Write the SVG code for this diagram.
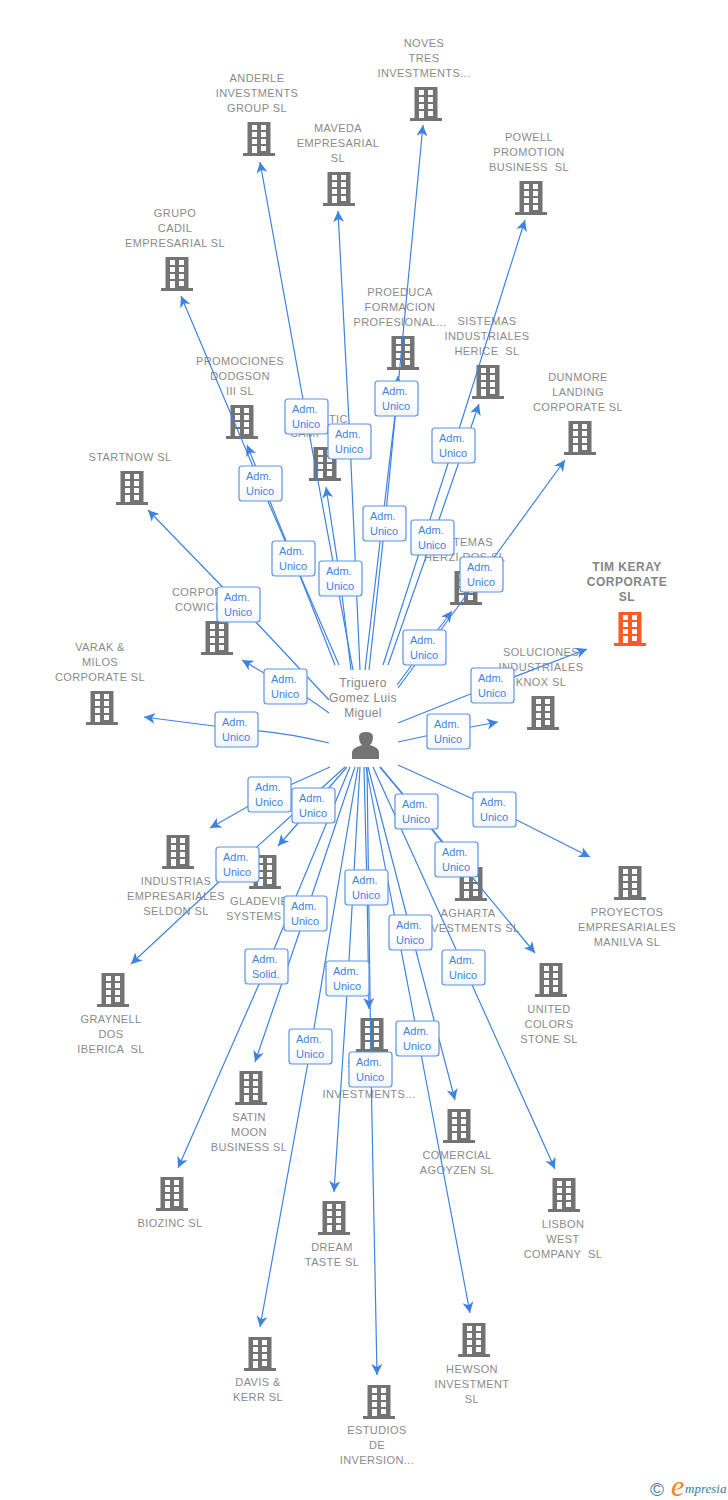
<svg xmlns="http://www.w3.org/2000/svg" width="728" height="1500" viewBox="0 0 728 1500">
<style>
text{font-family:"Liberation Sans",Arial,sans-serif;white-space:pre}
.n{font-size:11px;letter-spacing:.4px;fill:#8a8a8a;text-anchor:middle}
.s{font-size:11px;letter-spacing:.4px;fill:#8a8a8a}
.c{font-size:12px;letter-spacing:.4px;fill:#858585;text-anchor:middle}
.t{font-size:12px;letter-spacing:.5px;font-weight:bold;fill:#858585;text-anchor:middle}
.i{fill:#737373}
.l{fill:none;stroke:#3f83e0;stroke-width:1.2;marker-end:url(#a)}
.b rect{fill:url(#g);stroke:#5a94e8;stroke-width:1.2}
.b text{font-size:11px;fill:#3f83e0}
</style>
<defs>
<linearGradient id="g" x1="0" y1="0" x2="0" y2="1"><stop offset="0" stop-color="#fff"/><stop offset=".6" stop-color="#fff"/><stop offset="1" stop-color="#f1f4f8"/></linearGradient>
<marker id="a" markerUnits="userSpaceOnUse" markerWidth="12" markerHeight="12" refX="11" refY="6" orient="auto"><path d="M11 6L0 .5L3 6L0 11.5Z" fill="#3f83e0"/></marker>
<path id="h" fill-rule="evenodd" d="M-11.5 0H11.5V31H16V34H-16V31H-11.5ZM-7 3h5v5h-5zM2 3h5v5h-5zM-7 10h5v5h-5zM2 10h5v5h-5zM-7 17h5v5h-5zM2 17h5v5h-5zM-7 24h5v7h-5zM2 24h5v5h-5z"/>
</defs>
<g id="node-noves"><use href="#h" class="i" x="426" y="87"/><text class="n" x="424" y="47">NOVES</text><text class="n" x="424" y="62">TRES</text><text class="n" x="424" y="77">INVESTMENTS...</text></g>
<g id="node-anderle"><use href="#h" class="i" x="259" y="122"/><text class="n" x="257" y="82">ANDERLE</text><text class="n" x="257" y="97">INVESTMENTS</text><text class="n" x="257" y="112">GROUP SL</text></g>
<g id="node-maveda"><use href="#h" class="i" x="339" y="172"/><text class="n" x="338" y="132">MAVEDA</text><text class="n" x="338" y="147">EMPRESARIAL</text><text class="n" x="338" y="162">SL</text></g>
<g id="node-powell"><use href="#h" class="i" x="531" y="181"/><text class="n" x="529" y="141">POWELL</text><text class="n" x="529" y="156">PROMOTION</text><text class="n" x="529" y="171">BUSINESS  SL</text></g>
<g id="node-grupo"><use href="#h" class="i" x="177" y="257"/><text class="n" x="175" y="217">GRUPO</text><text class="n" x="175" y="232">CADIL</text><text class="n" x="175" y="247">EMPRESARIAL SL</text></g>
<g id="node-proeduca"><use href="#h" class="i" x="403" y="336"/><text class="n" x="400" y="296">PROEDUCA</text><text class="n" x="400" y="311">FORMACION</text><text class="n" x="400" y="326">PROFESIONAL...</text></g>
<g id="node-herice"><use href="#h" class="i" x="488" y="365"/><text class="n" x="487" y="325">SISTEMAS</text><text class="n" x="487" y="340">INDUSTRIALES</text><text class="n" x="487" y="355">HERICE  SL</text></g>
<g id="node-promociones"><use href="#h" class="i" x="242" y="405"/><text class="n" x="240" y="365">PROMOCIONES</text><text class="n" x="240" y="380">DODGSON</text><text class="n" x="240" y="395">III SL</text></g>
<g id="node-dunmore"><use href="#h" class="i" x="580" y="421"/><text class="n" x="578" y="381">DUNMORE</text><text class="n" x="578" y="396">LANDING</text><text class="n" x="578" y="411">CORPORATE SL</text></g>
<g id="node-campo"><use href="#h" class="i" x="325" y="447"/><text class="s" x="329" y="423">TIC</text><text class="s" x="290" y="437">CAMP</text></g>
<g id="node-startnow"><use href="#h" class="i" x="132" y="471"/><text class="n" x="130" y="461">STARTNOW SL</text></g>
<g id="node-cowich"><use href="#h" class="i" x="217" y="621"/><text class="s" x="172" y="596">CORPOR</text><text class="s" x="175" y="611">COWICH</text></g>
<g id="node-herzi"><use href="#h" class="i" x="466" y="571"/><text class="s" x="453" y="546">TEMAS</text><text class="s" x="424" y="561">HERZI DOS SL</text></g>
<g id="node-tim"><use href="#h" x="630" y="612" fill="#ff5a26"/><text class="t" x="627" y="571">TIM KERAY</text><text class="t" x="627" y="586">CORPORATE</text><text class="t" x="627" y="601">SL</text></g>
<g id="node-varak"><use href="#h" class="i" x="102" y="691"/><text class="n" x="100" y="651">VARAK &amp;</text><text class="n" x="100" y="666">MILOS</text><text class="n" x="100" y="681">CORPORATE SL</text></g>
<g id="node-knox"><use href="#h" class="i" x="543" y="696"/><text class="n" x="541" y="656">SOLUCIONES</text><text class="n" x="541" y="671">INDUSTRIALES</text><text class="n" x="541" y="686">KNOX SL</text></g>
<g id="node-person"><path class="i" d="M352 759V753Q352 749 357 747L362 745Q359 742 359 737Q359 732 366 732Q373 732 373 737Q373 742 370 745L375 747Q379 749 379 753V759Z"/><text class="c" x="363" y="687">Triguero</text><text class="c" x="363" y="702">Gomez Luis</text><text class="c" x="363" y="717">Miguel</text></g>
<g id="node-industrias"><use href="#h" class="i" x="178" y="835"/><text class="n" x="176" y="885">INDUSTRIAS</text><text class="n" x="176" y="900">EMPRESARIALES</text><text class="n" x="176" y="915">SELDON SL</text></g>
<g id="node-gladevie"><use href="#h" class="i" x="265" y="855"/><text class="s" x="230" y="905">GLADEVIE</text><text class="s" x="226" y="920">SYSTEMS</text></g>
<g id="node-agharta"><use href="#h" class="i" x="471" y="867"/><text class="n" x="468" y="917">AGHARTA</text><text class="s" x="431" y="932">VESTMENTS SL</text></g>
<g id="node-proyectos"><use href="#h" class="i" x="630" y="866"/><text class="n" x="627" y="916">PROYECTOS</text><text class="n" x="627" y="931">EMPRESARIALES</text><text class="n" x="627" y="946">MANILVA SL</text></g>
<g id="node-graynell"><use href="#h" class="i" x="113" y="973"/><text class="n" x="111" y="1023">GRAYNELL</text><text class="n" x="111" y="1038">DOS</text><text class="n" x="111" y="1053">IBERICA  SL</text></g>
<g id="node-united"><use href="#h" class="i" x="551" y="963"/><text class="n" x="549" y="1013">UNITED</text><text class="n" x="549" y="1028">COLORS</text><text class="n" x="549" y="1043">STONE SL</text></g>
<g id="node-investments"><use href="#h" class="i" x="372" y="1018"/><text class="s" x="347" y="1068">S</text><text class="n" x="369" y="1098">INVESTMENTS...</text></g>
<g id="node-satin"><use href="#h" class="i" x="251" y="1071"/><text class="n" x="249" y="1121">SATIN</text><text class="n" x="249" y="1136">MOON</text><text class="n" x="249" y="1151">BUSINESS SL</text></g>
<g id="node-comercial"><use href="#h" class="i" x="459" y="1109"/><text class="n" x="457" y="1159">COMERCIAL</text><text class="n" x="457" y="1174">AGOYZEN SL</text></g>
<g id="node-biozinc"><use href="#h" class="i" x="172" y="1177"/><text class="n" x="170" y="1227">BIOZINC SL</text></g>
<g id="node-lisbon"><use href="#h" class="i" x="564" y="1178"/><text class="n" x="563" y="1228">LISBON</text><text class="n" x="563" y="1243">WEST</text><text class="n" x="563" y="1258">COMPANY  SL</text></g>
<g id="node-dream"><use href="#h" class="i" x="334" y="1201"/><text class="n" x="332" y="1251">DREAM</text><text class="n" x="332" y="1266">TASTE SL</text></g>
<g id="node-davis"><use href="#h" class="i" x="260" y="1337"/><text class="n" x="258" y="1386">DAVIS &amp;</text><text class="n" x="258" y="1401">KERR SL</text></g>
<g id="node-hewson"><use href="#h" class="i" x="474" y="1323"/><text class="n" x="472" y="1373">HEWSON</text><text class="n" x="472" y="1388">INVESTMENT</text><text class="n" x="472" y="1403">SL</text></g>
<g id="node-estudios"><use href="#h" class="i" x="379" y="1385"/><text class="n" x="377" y="1434">ESTUDIOS</text><text class="n" x="377" y="1449">DE</text><text class="n" x="377" y="1464">INVERSION...</text></g>
<g id="connectors">
<path class="l" d="M369 670L385 523L423 125"/>
<path class="l" d="M365 670L397 398L398 376"/>
<path class="l" d="M383 665L454 445L525 220"/>
<path class="l" d="M388 665L433 537L479 404"/>
<path class="l" d="M398 688L482 574L565 460"/>
<path class="l" d="M397 685L425 647L452 611"/>
<path class="l" d="M398 723L493 685L587 649"/>
<path class="l" d="M398 742L449 731L498 722"/>
<path class="l" d="M398 765L495 809L590 857"/>
<path class="l" d="M380 767L457 859L535 953"/>
<path class="l" d="M380 767L417 811L454 857"/>
<path class="l" d="M373 767L464 967L555 1169"/>
<path class="l" d="M368 767L411 932L455 1100"/>
<path class="l" d="M366 767L418 1038L470 1313"/>
<path class="l" d="M364 767L367 887L369 1009"/>
<path class="l" d="M367 767L371 1069L377 1375"/>
<path class="l" d="M360 767L348 978L334 1192"/>
<path class="l" d="M358 767L311 1046L260 1327"/>
<path class="l" d="M355 767L306 913L255 1062"/>
<path class="l" d="M350 767L267 966L178 1168"/>
<path class="l" d="M345 767L238 864L131 964"/>
<path class="l" d="M347 767L314 805L278 846"/>
<path class="l" d="M330 767L270 794L210 828"/>
<path class="l" d="M329 743Q285 732 237 729L144 717"/>
<path class="l" d="M329 713Q305 695 286 686L242 660"/>
<path class="l" d="M329 700L239 604L148 510"/>
<path class="l" d="M339 665L260 483L181 296"/>
<path class="l" d="M335 665L293 558L247 445"/>
<path class="l" d="M353 670L306 416L260 162"/>
<path class="l" d="M351 670L340 578L326 487"/>
<path class="l" d="M360 670L350 441L338 211"/>
</g>
<g id="labels">
<g class="b"><rect x="285" y="399" width="43" height="35" rx="3"/><text><tspan x="292" y="413">Adm.</tspan><tspan x="292" y="428">Unico</tspan></text></g>
<g class="b"><rect x="328" y="424" width="43" height="35" rx="3"/><text><tspan x="335" y="438">Adm.</tspan><tspan x="335" y="453">Unico</tspan></text></g>
<g class="b"><rect x="375" y="381" width="43" height="35" rx="3"/><text><tspan x="382" y="395">Adm.</tspan><tspan x="382" y="410">Unico</tspan></text></g>
<g class="b"><rect x="432" y="428" width="43" height="35" rx="3"/><text><tspan x="439" y="442">Adm.</tspan><tspan x="439" y="457">Unico</tspan></text></g>
<g class="b"><rect x="239" y="466" width="43" height="35" rx="3"/><text><tspan x="246" y="480">Adm.</tspan><tspan x="246" y="495">Unico</tspan></text></g>
<g class="b"><rect x="363" y="506" width="43" height="35" rx="3"/><text><tspan x="370" y="520">Adm.</tspan><tspan x="370" y="535">Unico</tspan></text></g>
<g class="b"><rect x="411" y="520" width="43" height="35" rx="3"/><text><tspan x="418" y="534">Adm.</tspan><tspan x="418" y="549">Unico</tspan></text></g>
<g class="b"><rect x="272" y="541" width="43" height="35" rx="3"/><text><tspan x="279" y="555">Adm.</tspan><tspan x="279" y="570">Unico</tspan></text></g>
<g class="b"><rect x="319" y="561" width="43" height="35" rx="3"/><text><tspan x="326" y="575">Adm.</tspan><tspan x="326" y="590">Unico</tspan></text></g>
<g class="b"><rect x="460" y="557" width="43" height="35" rx="3"/><text><tspan x="467" y="571">Adm.</tspan><tspan x="467" y="586">Unico</tspan></text></g>
<g class="b"><rect x="217" y="587" width="43" height="35" rx="3"/><text><tspan x="224" y="601">Adm.</tspan><tspan x="224" y="616">Unico</tspan></text></g>
<g class="b"><rect x="403" y="630" width="43" height="35" rx="3"/><text><tspan x="410" y="644">Adm.</tspan><tspan x="410" y="659">Unico</tspan></text></g>
<g class="b"><rect x="264" y="669" width="43" height="35" rx="3"/><text><tspan x="271" y="683">Adm.</tspan><tspan x="271" y="698">Unico</tspan></text></g>
<g class="b"><rect x="471" y="668" width="43" height="35" rx="3"/><text><tspan x="478" y="682">Adm.</tspan><tspan x="478" y="697">Unico</tspan></text></g>
<g class="b"><rect x="215" y="712" width="43" height="35" rx="3"/><text><tspan x="222" y="726">Adm.</tspan><tspan x="222" y="741">Unico</tspan></text></g>
<g class="b"><rect x="427" y="714" width="43" height="35" rx="3"/><text><tspan x="434" y="728">Adm.</tspan><tspan x="434" y="743">Unico</tspan></text></g>
<g class="b"><rect x="248" y="777" width="43" height="35" rx="3"/><text><tspan x="255" y="791">Adm.</tspan><tspan x="255" y="806">Unico</tspan></text></g>
<g class="b"><rect x="292" y="788" width="43" height="35" rx="3"/><text><tspan x="299" y="802">Adm.</tspan><tspan x="299" y="817">Unico</tspan></text></g>
<g class="b"><rect x="395" y="794" width="43" height="35" rx="3"/><text><tspan x="402" y="808">Adm.</tspan><tspan x="402" y="823">Unico</tspan></text></g>
<g class="b"><rect x="473" y="792" width="43" height="35" rx="3"/><text><tspan x="480" y="806">Adm.</tspan><tspan x="480" y="821">Unico</tspan></text></g>
<g class="b"><rect x="435" y="842" width="43" height="35" rx="3"/><text><tspan x="442" y="856">Adm.</tspan><tspan x="442" y="871">Unico</tspan></text></g>
<g class="b"><rect x="216" y="847" width="43" height="35" rx="3"/><text><tspan x="223" y="861">Adm.</tspan><tspan x="223" y="876">Unico</tspan></text></g>
<g class="b"><rect x="345" y="870" width="43" height="35" rx="3"/><text><tspan x="352" y="884">Adm.</tspan><tspan x="352" y="899">Unico</tspan></text></g>
<g class="b"><rect x="284" y="896" width="43" height="35" rx="3"/><text><tspan x="291" y="910">Adm.</tspan><tspan x="291" y="925">Unico</tspan></text></g>
<g class="b"><rect x="389" y="915" width="43" height="35" rx="3"/><text><tspan x="396" y="929">Adm.</tspan><tspan x="396" y="944">Unico</tspan></text></g>
<g class="b"><rect x="245" y="949" width="43" height="35" rx="3"/><text><tspan x="252" y="963">Adm.</tspan><tspan x="252" y="978">Solid.</tspan></text></g>
<g class="b"><rect x="442" y="950" width="43" height="35" rx="3"/><text><tspan x="449" y="964">Adm.</tspan><tspan x="449" y="979">Unico</tspan></text></g>
<g class="b"><rect x="326" y="961" width="43" height="35" rx="3"/><text><tspan x="333" y="975">Adm.</tspan><tspan x="333" y="990">Unico</tspan></text></g>
<g class="b"><rect x="289" y="1029" width="43" height="35" rx="3"/><text><tspan x="296" y="1043">Adm.</tspan><tspan x="296" y="1058">Unico</tspan></text></g>
<g class="b"><rect x="396" y="1021" width="43" height="35" rx="3"/><text><tspan x="403" y="1035">Adm.</tspan><tspan x="403" y="1050">Unico</tspan></text></g>
<g class="b"><rect x="349" y="1052" width="43" height="35" rx="3"/><text><tspan x="356" y="1066">Adm.</tspan><tspan x="356" y="1081">Unico</tspan></text></g>
</g>
<g id="logo"><text x="650" y="1496" font-size="19" fill="#3f7f9f">©</text><text x="671" y="1496" font-size="30" font-style="italic" fill="#f5821f" style="font-family:'Liberation Serif',serif">e</text><text x="685" y="1493" font-size="13" font-style="italic" fill="#2f7f9a" style="font-family:'Liberation Serif',serif">mpresia</text></g>
</svg>
